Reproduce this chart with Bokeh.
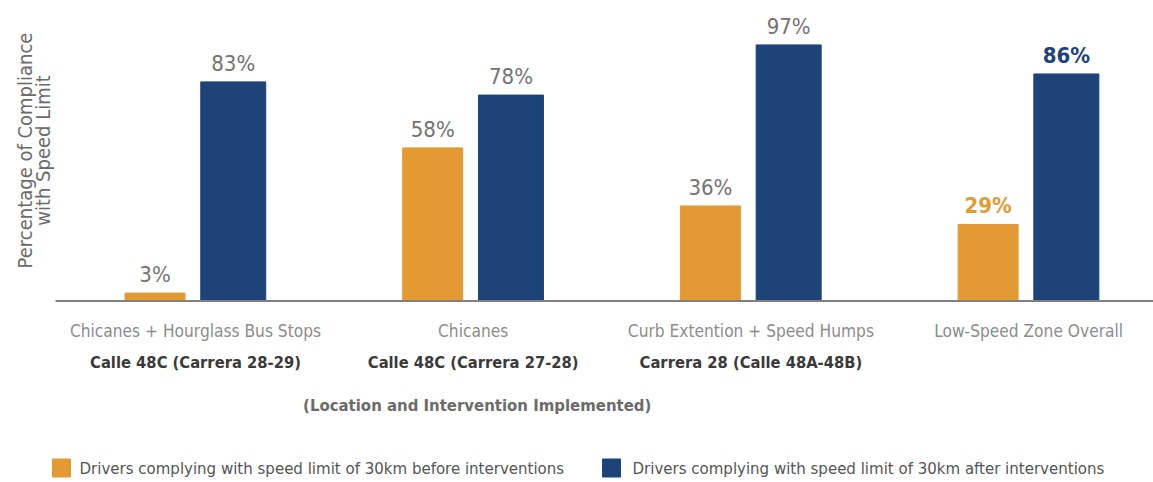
import math
from bokeh.plotting import figure
from bokeh.models import ColumnDataSource, Range1d
from bokeh.core.properties import value
from bokeh.embed import file_html
from bokeh.resources import INLINE

# ---------------- data ----------------
interventions = ["Chicanes + Hourglass Bus Stops", "Chicanes",
                 "Curb Extention + Speed Humps", "Low-Speed Zone Overall"]
locations = ["Calle 48C (Carrera 28-29)", "Calle 48C (Carrera 27-28)",
             "Carrera 28 (Calle 48A-48B)", ""]
before = [3, 58, 36, 29]
after = [83, 78, 97, 86]
legend_labels = ["Drivers complying with speed limit of 30km before interventions",
                 "Drivers complying with speed limit of 30km after interventions"]
y_title = ["Percentage of Compliance", "with Speed Limit"]
x_title = "(Location and Intervention Implemented)"

ORANGE = "#E39A33"
NAVY = "#1D4379"
FONT = "'DejaVu Sans Condensed', 'Liberation Sans Narrow', Roboto"

W, H = 1153, 482
PXX = 277.7          # px per category unit
PXY = 2.64           # px per percent
X0PX = 195           # screen x of first group center
BASEPX = 300.5       # screen y of baseline


def dx(px):
    return (px - X0PX) / PXX


def dy(py):
    return (BASEPX - py) / PXY


p = figure(width=W, height=H, output_backend="svg", toolbar_location=None,
           x_axis_location=None, y_axis_location=None,
           x_range=Range1d(dx(0), dx(W)), y_range=Range1d(dy(H), dy(0)),
           min_border=0, min_border_left=0, min_border_right=0,
           min_border_top=0, min_border_bottom=0)
p.outline_line_color = None
p.xgrid.visible = False
p.ygrid.visible = False
p.background_fill_color = "white"
p.border_fill_color = "white"

xs = list(range(len(interventions)))
off_b, off_a = -40.5 / PXX, 37.75 / PXX
src = ColumnDataSource(dict(
    xb=[x + off_b for x in xs], xa=[x + off_a for x in xs],
    before=before, after=after,
    lb=[f"{v}%" for v in before], la=[f"{v}%" for v in after],
    cb=["#737373", "#737373", "#737373", ORANGE],
    ca=["#737373", "#737373", "#737373", NAVY],
    fb=["normal", "normal", "normal", "bold"],
    fa=["normal", "normal", "normal", "bold"],
    xc=xs, l1=interventions, l2=locations,
))

p.vbar(x="xb", top="before", bottom=0, width=60 / PXX, color=ORANGE, source=src)
p.vbar(x="xa", top="after", bottom=0, width=65 / PXX, color=NAVY, source=src)

# baseline axis line
p.segment(x0=[dx(55)], y0=[0], x1=[dx(W)], y1=[0], line_color="#808080", line_width=2)

# value labels
p.text(x="xb", y="before", text="lb", source=src, text_color="cb", text_font_style="fb",
       text_font=value(FONT), text_font_size="22px", text_align="center",
       text_baseline="bottom", y_offset=-6)
p.text(x="xa", y="after", text="la", source=src, text_color="ca", text_font_style="fa",
       text_font=value(FONT), text_font_size="22px", text_align="center",
       text_baseline="bottom", y_offset=-6)

# category labels
p.text(x="xc", y=dy(330), text="l1", source=src, text_color="#8c8c8c",
       text_font=value(FONT), text_font_size="17.2px", text_align="center",
       text_baseline="middle")
p.text(x="xc", y=dy(362), text="l2", source=src, text_color="#3a3a3a",
       text_font=value(FONT), text_font_size="16.4px", text_font_style="bold",
       text_align="center", text_baseline="middle")

# x title
p.text(x=[1 + dx(X0PX + 4)], y=[dy(405)], text=[x_title], text_color="#6b6b6b",
       text_font=value(FONT), text_font_size="16.6px", text_font_style="bold",
       text_align="center", text_baseline="middle")

# y title
p.text(x=[dx(24), dx(42)], y=[dy(150), dy(150)], text=y_title, angle=math.pi / 2,
       text_color="#6b6b6b", text_font=value(FONT), text_font_size="20px",
       text_align="center", text_baseline="middle")

# legend
p.scatter(x=[dx(61), dx(611)], y=[dy(467.5), dy(467.5)], marker="square", size=18,
          color=[ORANGE, NAVY])
p.text(x=[dx(79), dx(632)], y=[dy(467.5), dy(467.5)], text=legend_labels,
       text_color="#555555", text_font=value(FONT), text_font_size="16.7px",
       text_align="left", text_baseline="middle")

open("out.html", "w").write(file_html(p, INLINE))
